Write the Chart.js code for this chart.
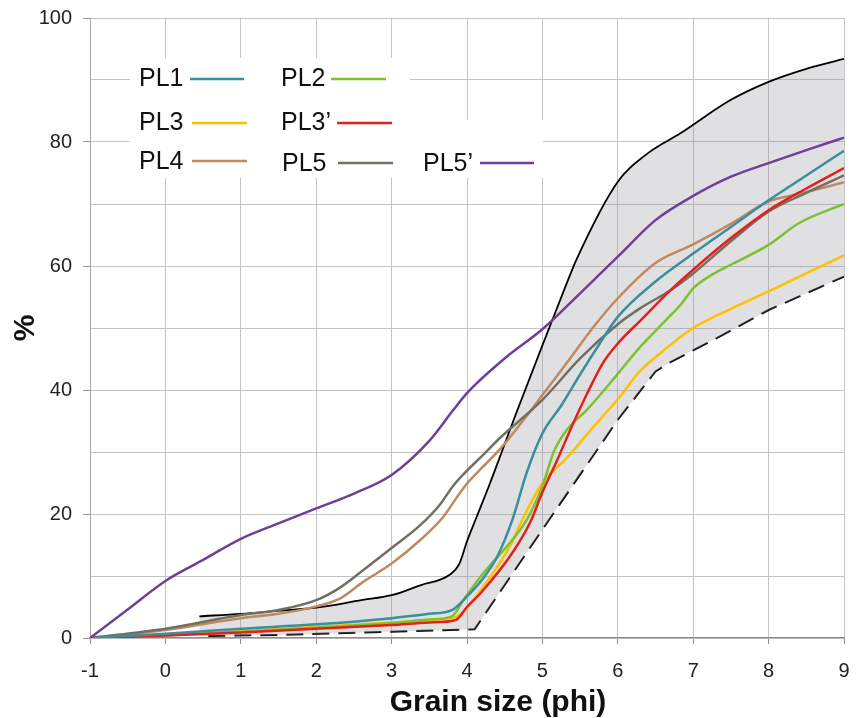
<!DOCTYPE html>
<html><head><meta charset="utf-8">
<script src="https://cdn.jsdelivr.net/npm/chart.js@4"></script>
<style>html,body{margin:0;padding:0;background:#fff}#wrap{width:860px;height:718px;position:relative}</style>
</head><body><div id="wrap"><canvas id="c"></canvas></div>
<script>
// ---- data ----
const xTickValues = [-1,0,1,2,3,4,5,6,7,8,9];
const yTickValues = [0,20,40,60,80,100];
const seriesLabels = ['PL1','PL2','PL3','PL3\u2019','PL4','PL5','PL5\u2019'];
const xTitle = 'Grain size (phi)';
const yTitle = '%';

const pl1X = [-1,0,1,2,3,3.5,3.8,4.0,4.2,4.4,4.6,4.79,5.0,5.25,5.5,5.75,6.0,6.5,7,7.5,8,8.5,9];
const pl1Y = [0,0.7,1.5,2.2,3.2,3.9,4.5,6.7,9.4,13.1,19.0,26.6,33.0,37.5,42.5,47.3,51.8,57.5,62.0,66.3,70.6,74.6,78.6];

const pl2X = [-1,0,1,2,3,3.5,3.8,3.95,4.2,4.6,4.79,5.0,5.15,5.32,5.59,5.89,6.3,6.6,6.85,7.0,7.25,7.5,8,8.4,9];
const pl2Y = [0,0.4,1.0,1.7,2.4,3.0,3.5,6.1,10.2,15.8,19.0,24.5,30.0,33.5,36.8,41.0,47.0,50.8,54.0,56.4,58.6,60.2,63.4,66.9,70.0];

const pl3X = [-1,0,1,2,3,3.5,3.85,4.2,4.6,4.71,5.0,5.32,5.68,6.0,6.29,6.5,7,7.5,8,8.5,9];
const pl3Y = [0,0.5,1.1,1.8,2.5,2.9,3.4,8.0,15.5,18.5,25,29.0,34.1,38.5,43,45.3,50,53.1,55.9,58.8,61.7];

const pl3pX = [-1,0,1,2,3,3.5,3.85,4.0,4.2,4.6,4.84,5.0,5.2,5.4,5.6,5.8,6.0,6.3,6.7,7,7.5,8,8.5,9];
const pl3pY = [0,0.4,0.9,1.5,2.1,2.5,2.9,5.0,7.5,13.7,18.7,23.5,28.8,34.4,39.6,44.3,47.5,51.2,56.1,59.4,64.5,69,72.5,75.8];

const pl4X = [-1,0,1,1.5,2,2.32,2.63,3,3.38,3.69,3.86,4.0,4.17,4.44,4.79,5.0,5.32,5.68,6.0,6.5,7,7.5,8,8.4,9];
const pl4Y = [0,1.3,3.2,3.9,5.1,6.4,9.1,12.0,15.8,19.6,22.6,24.9,27.1,30.5,35.8,39.2,44.3,50.2,54.8,60.5,63.5,66.8,70.4,71.6,73.5];

const pl5X = [-1,0,1,1.5,2,2.3,2.63,3,3.38,3.64,3.82,4.0,4.17,4.44,5.0,5.5,6.0,6.3,6.7,7,7.5,8,8.5,9];
const pl5Y = [0,1.5,3.7,4.5,6.1,8.0,11.0,14.5,18.2,21.5,24.6,27.0,29.0,32.3,38.4,45.1,50.6,53.2,56.1,58.8,64,68.8,71.8,74.6];

const pl5pX = [-1,-0.5,0,0.5,1,1.5,2,2.5,3,3.5,3.82,4,4.53,5,5.5,6,6.5,7,7.5,8,8.5,9];
const pl5pY = [0,4.6,9.2,12.6,16,18.5,20.9,23.3,26.3,31.8,36.8,39.5,45.4,49.8,55.6,61.5,67.4,71.3,74.4,76.6,78.7,80.7];

const upperX = [0.45,1,1.5,2,2.6,3,3.38,3.77,3.9,4.0,4.13,4.3,4.66,5.0,5.3,5.45,6.0,6.4,6.83,7.5,8,8.5,9];
const upperY = [3.5,3.9,4.4,4.9,6.1,6.9,8.5,10.2,12,15.6,19.6,24.8,36.5,47.2,56.5,61,73.6,78.2,81.4,86.8,89.7,91.8,93.4];

const lowerX = [0.45,1.5,3.0,4.1,5.0,6.0,6.5,6.7,7.3,8,9];
const lowerY = [0.3,0.5,1.0,1.4,17.5,35.2,43,44.5,48.3,52.9,58.3];

// ---- helpers ----
const pts = (xs, ys) => xs.map((x, i) => ({x: x, y: ys[i]}));
const FONT = "'Liberation Sans', Arial, sans-serif";

function lineDs(label, xs, ys, color) {
  return {label: label, data: pts(xs, ys), borderColor: color, backgroundColor: color,
    borderWidth: 2.5, pointRadius: 0, fill: false, cubicInterpolationMode: 'monotone'};
}

const datasets = [
  lineDs(seriesLabels[6], pl5pX, pl5pY, '#6e3f98'),
  lineDs(seriesLabels[0], pl1X, pl1Y, '#3a8e9d'),
  lineDs(seriesLabels[3], pl3pX, pl3pY, '#e3201c'),
  lineDs(seriesLabels[5], pl5X, pl5Y, '#707063'),
  lineDs(seriesLabels[4], pl4X, pl4Y, '#c0895e'),
  lineDs(seriesLabels[1], pl2X, pl2Y, '#7cc12e'),
  lineDs(seriesLabels[2], pl3X, pl3Y, '#ffc000'),
  {label: 'upper', data: pts(upperX, upperY), borderColor: '#000', borderWidth: 1.8, pointRadius: 0,
    cubicInterpolationMode: 'monotone', fill: {target: 8}, backgroundColor: 'rgba(140,140,152,0.27)'},
  {label: 'lower', data: pts(lowerX, lowerY), borderColor: '#111', borderWidth: 2, pointRadius: 0,
    tension: 0, borderDash: [17, 9], borderDashOffset: 17, fill: false}
];

// legend drawn inside the plot, as in the reference
const legendItems = [
  {t: 0, tx: 139, by: 86, l0: 190, l1: 244, ly: 79, c: '#3a8e9d'},
  {t: 1, tx: 281, by: 86, l0: 331, l1: 386, ly: 79, c: '#7cc12e'},
  {t: 2, tx: 139, by: 130, l0: 192, l1: 247, ly: 123, c: '#ffc000'},
  {t: 3, tx: 281, by: 130, l0: 337, l1: 392, ly: 123, c: '#e3201c'},
  {t: 4, tx: 139, by: 169, l0: 192, l1: 247, ly: 161, c: '#c0895e'},
  {t: 5, tx: 282, by: 171, l0: 338, l1: 393, ly: 163, c: '#707063'},
  {t: 6, tx: 423, by: 171, l0: 480, l1: 534, ly: 163, c: '#6e3f98'}
];
const legendPlugin = {
  id: 'inLegend',
  beforeDatasetsDraw(chart) {
    const ctx = chart.ctx;
    ctx.save();
    ctx.fillStyle = '#fff';
    ctx.fillRect(130, 58, 280, 120);
    ctx.fillRect(405, 120, 138, 58);
    ctx.font = '25px ' + FONT;
    ctx.textBaseline = 'alphabetic';
    ctx.textAlign = 'left';
    legendItems.forEach(it => {
      ctx.fillStyle = '#111';
      ctx.fillText(seriesLabels[it.t], it.tx, it.by);
      ctx.strokeStyle = it.c;
      ctx.lineWidth = 2.5;
      ctx.beginPath();
      ctx.moveTo(it.l0, it.ly);
      ctx.lineTo(it.l1, it.ly);
      ctx.stroke();
    });
    ctx.restore();
  },
  afterDraw(chart) {
    const ctx = chart.ctx;
    ctx.save();
    ctx.fillStyle = '#111';
    ctx.font = 'bold 30px ' + FONT;
    ctx.textAlign = 'center';
    ctx.textBaseline = 'middle';
    ctx.fillText(xTitle, 498, 703);
    ctx.restore();
  }
};

new Chart(document.getElementById('c'), {
  type: 'line',
  data: {datasets: datasets},
  plugins: [legendPlugin],
  options: {
    responsive: true, maintainAspectRatio: false, animation: false,
    layout: {padding: {top: 18, right: 16, left: 0, bottom: 0}},
    plugins: {legend: {display: false}, tooltip: {enabled: false}},
    scales: {
      x: {
        type: 'linear', min: -1, max: 9,
        afterBuildTicks: s => { s.ticks = xTickValues.map(v => ({value: v})); },
        afterFit: s => { s.height = 80; s.paddingLeft = 0; s.paddingRight = 0; },
        grid: {color: '#c4c4c4', lineWidth: 1, tickLength: 6, tickColor: '#8c8c8c'},
        border: {color: '#8c8c8c', width: 1.2},
        ticks: {font: {size: 20, family: FONT}, color: '#222', padding: 15, maxRotation: 0},
        title: {display: false}
      },
      y: {
        min: 0, max: 100,
        afterBuildTicks: s => {
          const t = [];
          for (let v = 0; v <= 100; v += 10) t.push({value: v});
          s.ticks = t;
        },
        afterFit: s => { s.width = 90; s.paddingTop = 0; s.paddingBottom = 0; },
        grid: {color: '#c4c4c4', lineWidth: 1, tickLength: 7,
          tickColor: c => (yTickValues.includes(c.tick.value) ? '#999' : 'rgba(0,0,0,0)')},
        border: {color: '#a8a8a8', width: 1},
        ticks: {font: {size: 20, family: FONT}, color: '#222', padding: 11,
          callback: v => (yTickValues.includes(v) ? String(v) : '')},
        title: {display: true, text: yTitle, color: '#111',
          font: {size: 30, weight: 'bold', family: FONT, lineHeight: 1}, padding: {top: 11, bottom: 0}}
      }
    }
  }
});
</script>
</body></html>
